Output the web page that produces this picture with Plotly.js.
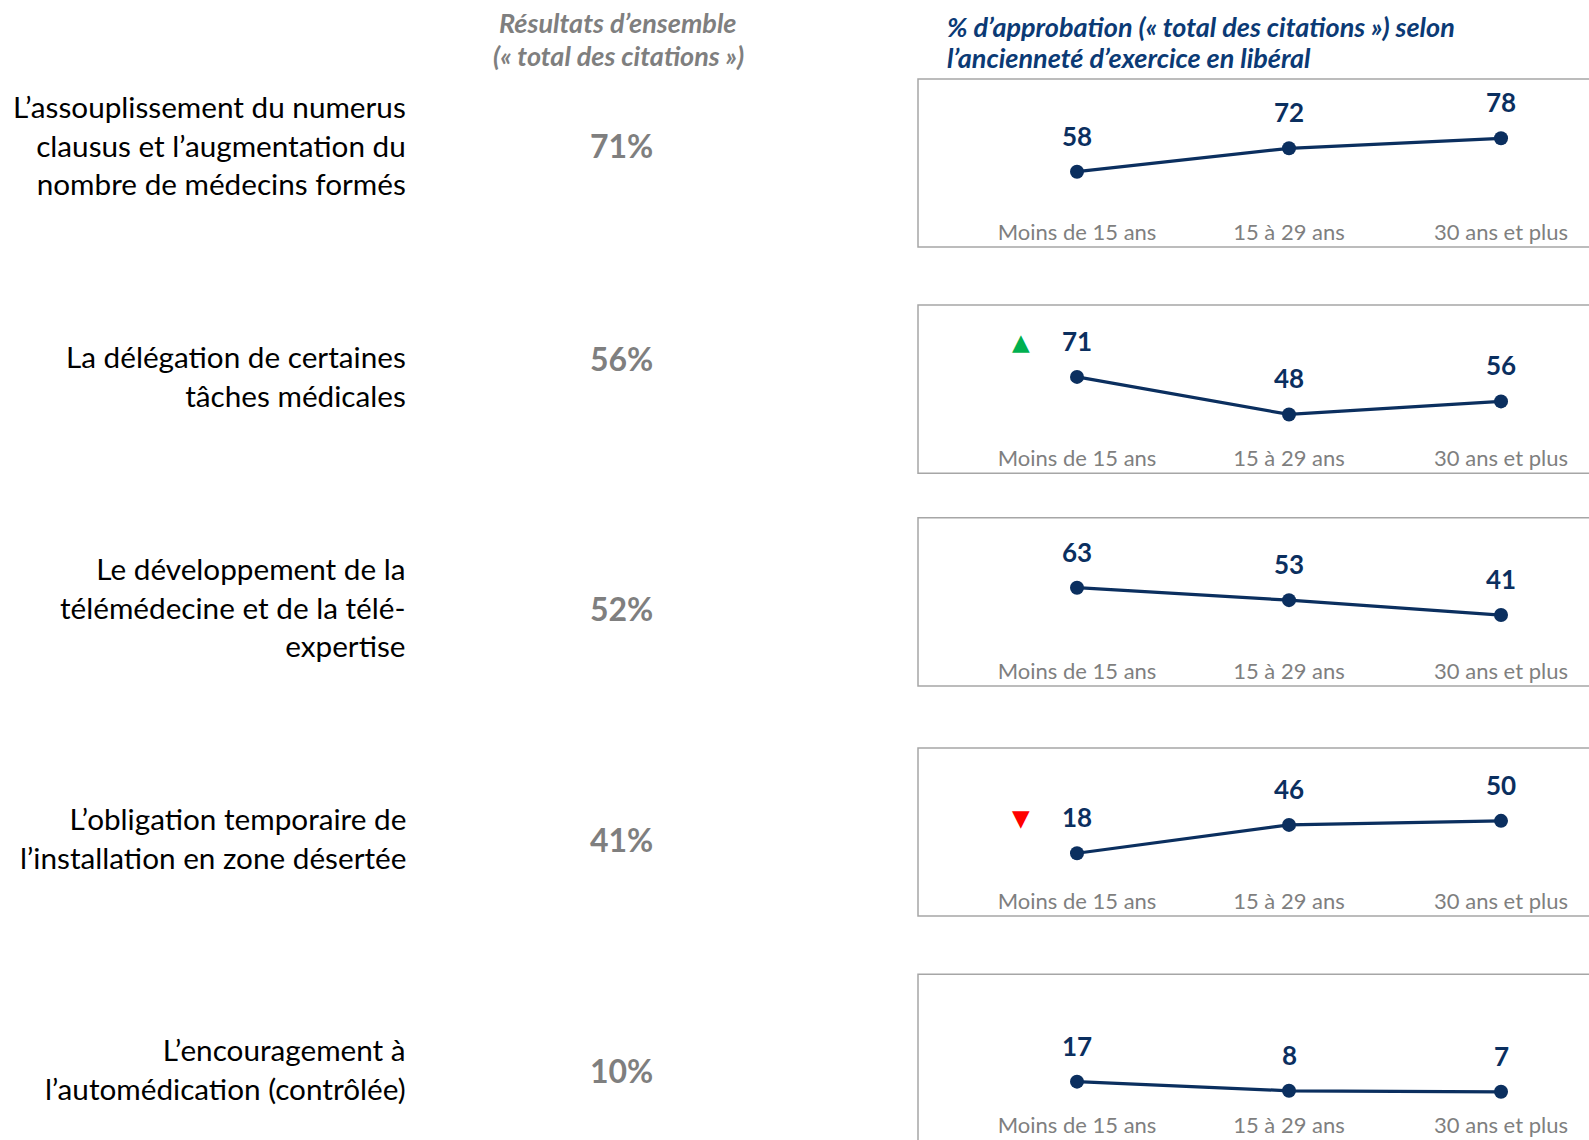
<!DOCTYPE html>
<html>
<head>
<meta charset="utf-8">
<script src="https://cdn.plot.ly/plotly-3.0.1.min.js"></script>
<style>html,body{margin:0;padding:0;background:#fff;}#chart{width:1589px;height:1140px;}</style>
</head>
<body>
<div id="chart"></div>
<script>
// ---- data ----
const items = [
  "L’assouplissement du numerus<br>clausus et l’augmentation du<br>nombre de médecins formés",
  "La délégation de certaines<br>tâches médicales",
  "Le développement de la<br>télémédecine et de la télé-<br>expertise",
  "L’obligation temporaire de<br>l’installation en zone désertée",
  "L’encouragement à<br>l’automédication (contrôlée)"
];
const overall = [71, 56, 52, 41, 10];
const seniority = ["Moins de 15 ans", "15 à 29 ans", "30 ans et plus"];
const approval1 = [58, 72, 78];
const approval2 = [71, 48, 56];
const approval3 = [63, 53, 41];
const approval4 = [18, 46, 50];
const approval5 = [17, 8, 7];
const signif = ["", "up", "", "down", ""];   // significance mark on "Moins de 15 ans"
const headerLeft = ["Résultats d’ensemble", "(« total des citations »)"];
const headerRight = ["% d’approbation (« total des citations ») selon", "l’ancienneté d’exercice en libéral"];

// ---- layout helpers ----
const W = 1589, H = 1140;
const px = v => v / W;
const py = v => 1 - v / H;
const series = [approval1, approval2, approval3, approval4, approval5];
const boxes = [[79, 247], [305, 473.3], [517.8, 686.1], [747.9, 916.1], [974.3, 1140]];
const yranges = [[12.9, 113.5], [11.9, 115.1], [-16.1, 119.2], [-44, 122], [-40.6, 123]];
const labelY = [145, 375.5, 607, 837.5, 1068.5];
const pctY = [146, 358, 608, 839, 1070];
const navy = "#0b2f5f";
const gray = "#7f7f7f";
const FONT = "Lato, 'Open Sans', sans-serif";

const traces = [];
const layout = {
  width: W, height: H,
  margin: {l: 0, r: 0, t: 0, b: 0},
  paper_bgcolor: "#fff", plot_bgcolor: "rgba(0,0,0,0)",
  showlegend: false,
  annotations: [], shapes: []
};

series.forEach((vals, i) => {
  const k = i + 1;
  const xa = "xaxis" + (k === 1 ? "" : k), ya = "yaxis" + (k === 1 ? "" : k);
  const xr = "x" + (k === 1 ? "" : k), yr = "y" + (k === 1 ? "" : k);
  traces.push({
    type: "scatter", mode: "lines+markers",
    x: seniority, y: vals, xaxis: xr, yaxis: yr,
    line: {color: navy, width: 3.2},
    marker: {color: navy, size: 14},
    cliponaxis: false, hoverinfo: "skip"
  });
  layout[xa] = {
    domain: [px(918), 1], range: [-0.75, 2.415], type: "category",
    anchor: yr, showgrid: false, zeroline: false, showline: false,
    ticks: "", ticklabelposition: "inside",
    tickfont: {family: FONT, size: 22, color: gray}, fixedrange: true
  };
  layout[ya] = {
    domain: [Math.max(0, py(boxes[i][1])), py(boxes[i][0])], range: yranges[i],
    anchor: xr, showgrid: false, zeroline: false, showline: false,
    showticklabels: false, ticks: "", fixedrange: true
  };
  layout.shapes.push({
    type: "rect", xref: "paper", yref: "paper",
    x0: px(918), x1: 1.05, y0: i === 4 ? -0.05 : py(boxes[i][1]), y1: py(boxes[i][0]),
    line: {color: "#a6a6a6", width: 1.5}, fillcolor: "rgba(0,0,0,0)", layer: "below"
  });
  vals.forEach((v, j) => {
    layout.annotations.push({
      xref: xr, yref: yr, x: seniority[j], y: v, yshift: 36,
      text: "<b>" + v + "</b>", showarrow: false, yanchor: "middle",
      font: {family: FONT, size: 26, color: navy}
    });
  });
  if (signif[i]) {
    layout.annotations.push({
      xref: xr, yref: yr, x: seniority[0], y: vals[0], yshift: 35, xshift: -56,
      text: signif[i] === "up" ? "▲" : "▼", showarrow: false, yanchor: "middle",
      font: {family: "DejaVu Sans", size: 23, color: signif[i] === "up" ? "#00b050" : "#ff0000"}
    });
  }
  layout.annotations.push({
    xref: "paper", yref: "paper", x: px(408), y: py(labelY[i]),
    xanchor: "right", yanchor: "middle", align: "right",
    text: items[i], showarrow: false,
    font: {family: FONT, size: 29.7, color: "#000"}
  });
  layout.annotations.push({
    xref: "paper", yref: "paper", x: px(621), y: py(pctY[i]),
    xanchor: "center", yanchor: "middle",
    text: "<b>" + overall[i] + "%</b>", showarrow: false,
    font: {family: FONT, size: 32, color: gray}
  });
});

const hlY = [22.5, 55];
headerLeft.forEach((t, j) => {
  layout.annotations.push({
    xref: "paper", yref: "paper", x: px(618), y: py(hlY[j]),
    xanchor: "center", yanchor: "middle",
    text: "<b><i>" + t + "</i></b>", showarrow: false,
    font: {family: FONT, size: 27, color: gray}
  });
});
const hrY = [26.5, 57.5];
headerRight.forEach((t, j) => {
  layout.annotations.push({
    xref: "paper", yref: "paper", x: px(945), y: py(hrY[j]),
    xanchor: "left", yanchor: "middle",
    text: "<b><i>" + t + "</i></b>", showarrow: false,
    font: {family: FONT, size: 27, color: "#0b3a75"}
  });
});

Plotly.newPlot("chart", traces, layout, {displayModeBar: false, staticPlot: true});
</script>
</body>
</html>
